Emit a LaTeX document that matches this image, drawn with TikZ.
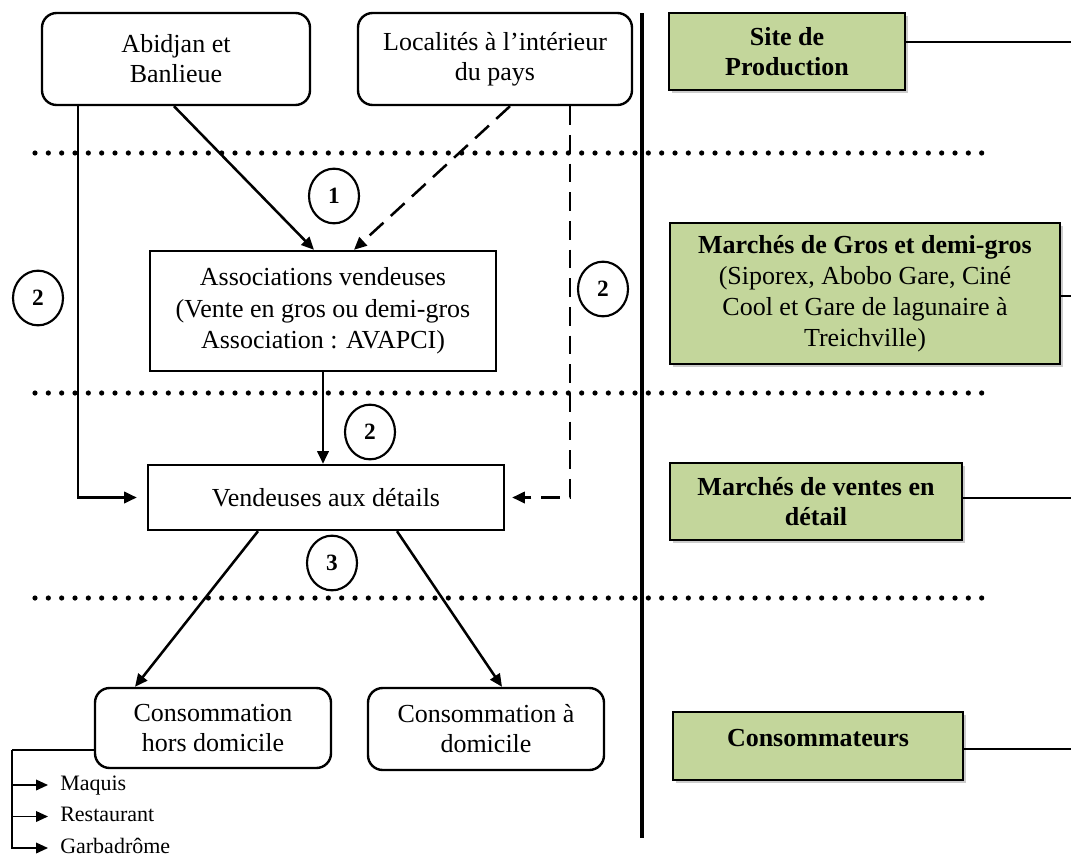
\documentclass[tikz,border=0pt]{standalone}
\usepackage{fontspec}
\setmainfont{Liberation Serif}
\usetikzlibrary{arrows.meta,shapes.geometric,shadows}
\definecolor{boxgreen}{HTML}{C3D69B}
\begin{document}
\begin{tikzpicture}[x=0.75pt,y=-0.75pt,
  font=\fontsize{19.5}{22.5}\selectfont,
  conn/.style={line width=1.9pt},
  arr/.style={conn,-{Triangle[length=9.5pt,width=8.5pt]}},
  smallarr/.style={line width=1.2pt,-{Triangle[length=9pt,width=8pt]}},
  dashline/.style={dash pattern=on 14pt off 7.5pt},
  dotrow/.style={line width=3.9pt,line cap=round,dash pattern=on 0pt off 10pt},
  roundbox/.style={draw,line width=1.8pt,rounded corners=11pt,align=center,inner sep=0pt},
  plainbox/.style={draw,line width=1.8pt,align=center,inner sep=0pt},
  levelbox/.style={draw,line width=2.2pt,fill=boxgreen,align=center,inner sep=0pt,
    drop shadow={shadow xshift=2.2pt,shadow yshift=-2.2pt,fill=black!40}},
  num/.style={draw,ellipse,line width=1.6pt,minimum width=37.5pt,minimum height=41pt,
    inner sep=0pt,font=\fontsize{17.5}{20}\selectfont\bfseries},
  small/.style={font=\fontsize{16.5}{18}\selectfont,anchor=west,inner sep=0pt,
    text height=11pt,text depth=3pt}
]
\useasboundingbox (0,0) rectangle (1071,860);

% level separators
\draw[dotrow] (35,153) -- (985,153);
\draw[dotrow] (35,393) -- (985,393);
\draw[dotrow] (35,598) -- (985,598);
\draw[line width=2.4pt] (642,13) -- (642,838);

% actors of the chain
\node[roundbox,minimum width=201pt,minimum height=69pt] (abid) at (176,59) {Abidjan et\\Banlieue};
\node[roundbox,minimum width=205.5pt,minimum height=69pt] (loc) at (495,59) {Localités à l’intérieur\\du pays};
\node[plainbox,minimum width=259.5pt,minimum height=90pt,font=\fontsize{19.5}{23.5}\selectfont] (assoc) at (323,311)
  {Associations vendeuses\\(Vente en gros ou demi-gros\\Association : AVAPCI)};
\node[plainbox,minimum width=267pt,minimum height=48.75pt] (vend) at (326,497.5) {Vendeuses aux détails};
\node[roundbox,minimum width=177pt,minimum height=60pt] (hors) at (213,728) {Consommation\\hors domicile};
\node[roundbox,minimum width=177pt,minimum height=61.5pt] (dom) at (486,729) {Consommation à\\domicile};

% levels
\node[levelbox,minimum width=177pt,minimum height=57.75pt,font=\fontsize{19.5}{22}\selectfont\bfseries] (site) at (787,51.5) {Site de\\Production};
\node[levelbox,minimum width=292.5pt,minimum height=105.75pt,font=\fontsize{19.5}{23.25}\selectfont] (gros) at (865,293.5)
  {\textbf{Marchés de Gros et demi-gros}\\(Siporex, Abobo Gare, Ciné\\Cool et Gare de lagunaire à\\Treichville)};
\node[levelbox,minimum width=219pt,minimum height=57.75pt,font=\fontsize{19.5}{22}\selectfont\bfseries] (vdet) at (816,501.5) {Marchés de ventes en\\détail};
\node[levelbox,minimum width=217.5pt,minimum height=51pt,font=\fontsize{19.5}{22}\selectfont\bfseries,text depth=12pt] (cons) at (818,746) {Consommateurs};

\coordinate (eSite) at (1071,42);
\coordinate (eGros) at (1071,296);
\coordinate (eVdet) at (1071,498);
\coordinate (eCons) at (1071,749);
\draw[conn] (site.east |- eSite) -- (eSite);
\draw[conn] (gros.east |- eGros) -- (eGros);
\draw[conn] (vdet.east |- eVdet) -- (eVdet);
\draw[conn] (cons.east |- eCons) -- (eCons);

% circuit numbers
\node[num] (n1) at (334,196) {1};
\node[num] (n2a) at (38,298) {2};
\node[num] (n2b) at (603,289) {2};
\node[num] (n2c) at (370,432) {2};
\node[num] (n3) at (332,563) {3};

% flows
\coordinate (xL) at (78,0);
\coordinate (xR) at (570,0);
\draw[arr] ([xshift=-1.5pt]abid.south) -- ([xshift=-6.75pt]assoc.north);
\draw[arr,dashline] ([xshift=11.25pt]loc.south) -- ([xshift=23.25pt]assoc.north);
\draw[arr] (abid.south -| xL) |- ([xshift=-7.5pt]vend.west);
\draw[arr,dashline] (loc.south -| xR) |- ([xshift=5.25pt]vend.east);
\draw[arr] (assoc.south) -- (assoc.south |- vend.north);
\draw[arr] ([xshift=-51pt]vend.south) -- ([xshift=-58.5pt]hors.north);
\draw[arr] ([xshift=53.25pt]vend.south) -- ([xshift=12pt]dom.north);

% places of out-of-home consumption
\node[small] (maq) at (60,785) {Maquis};
\node[small] (rest) at (60,816.5) {Restaurant};
\node[small] (garb) at (60,848) {Garbadrôme};
\coordinate (bus) at (12,750);
\draw[line width=1.2pt] (hors.west |- bus) -- (bus);
\draw[smallarr] (bus) |- ([xshift=-9pt]garb.west);
\draw[smallarr] (bus |- maq.west) -- ([xshift=-9pt]maq.west);
\draw[smallarr] (bus |- rest.west) -- ([xshift=-9pt]rest.west);
\end{tikzpicture}
\end{document}
